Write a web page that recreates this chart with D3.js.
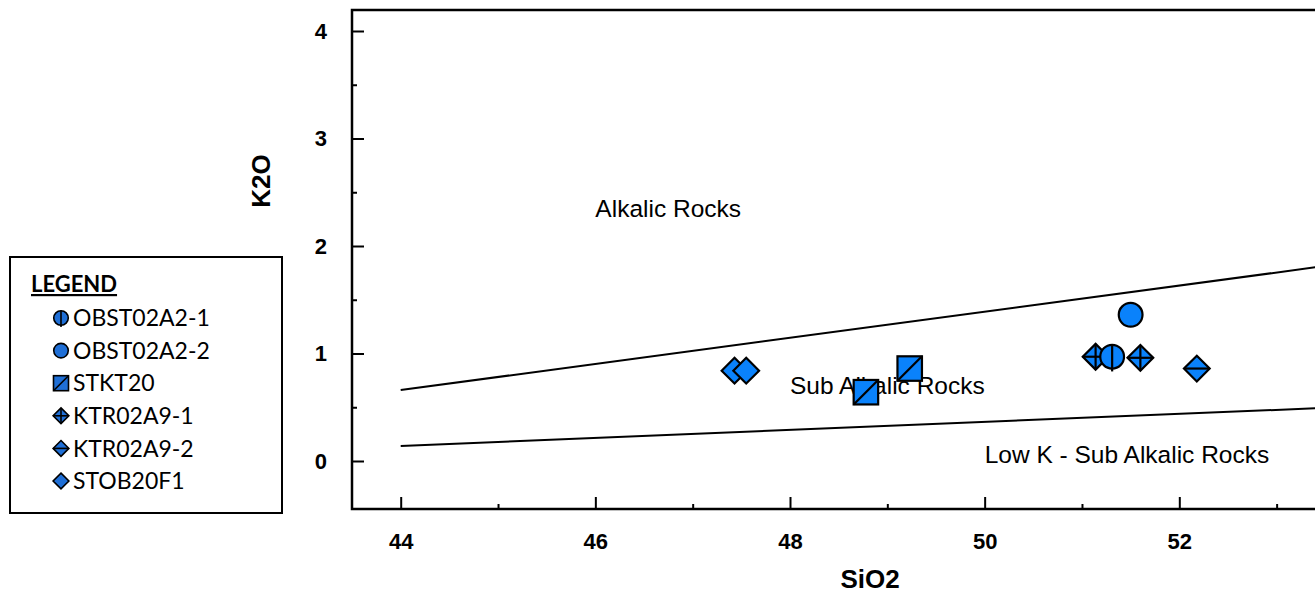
<!DOCTYPE html>
<html>
<head>
<meta charset="utf-8">
<script src="https://cdn.jsdelivr.net/npm/d3@7"></script>
<style>
  body { margin: 0; background: #fff; }
  svg { display: block; }
  .tick text { font-family: "Liberation Sans", Arial, sans-serif; font-weight: bold; font-size: 22px; fill: #000; }
  .tick line { stroke: #000; stroke-width: 2px; }
</style>
</head>
<body>
<svg id="chart" width="1315" height="596"></svg>
<script>
// series names, in legend order
var seriesNames = ["OBST02A2-1", "OBST02A2-2", "STKT20", "KTR02A9-1", "KTR02A9-2", "STOB20F1"];
var seriesSymbols = ["circleV", "circle", "squareDiag", "diamondCross", "diamondH", "diamond"];

// samples, [SiO2, K2O]
var obst02a2_1 = [[51.31, 0.97]];
var obst02a2_2 = [[51.50, 1.36]];
var stkt20 = [[48.78, 0.64], [49.23, 0.86]];
var ktr02a9_1 = [[51.14, 0.97], [51.60, 0.96]];
var ktr02a9_2 = [[52.18, 0.86]];
var stob20f1 = [[47.43, 0.84], [47.55, 0.84]];

// field boundaries
var alkalicLine = [[44, 0.66], [54, 1.875]];
var lowKLine = [[44, 0.14], [54, 0.513]];

// field names [label, SiO2, K2O]
var fieldLabels = [
    ["Alkalic Rocks", 46.0, 2.35],
    ["Sub Alkalic Rocks", 48.0, 0.70],
    ["Low K - Sub Alkalic Rocks", 50.0, 0.065]
];

var xMajor = [44, 46, 48, 50, 52];
var xMinor = [45, 47, 49, 51, 53];
var yMajor = [0, 1, 2, 3, 4];
var yMinor = [0.5, 1.5, 2.5, 3.5];

var svg = d3.select("#chart");

var plotLeft = 352, plotTop = 10, plotBottom = 509, plotRight = 1345;

var x = d3.scaleLinear().domain([44, 52]).range([400.7, 1179.3]);
var y = d3.scaleLinear().domain([0, 4]).range([461, 31]);

var fill = "#0a82fb";

// frame
svg.append("path")
    .attr("d", "M" + plotRight + "," + plotTop + "H" + plotLeft + "V" + plotBottom + "H" + plotRight)
    .attr("fill", "none")
    .attr("stroke", "#000")
    .attr("stroke-width", 2.5);

// y axis
var yAxis = svg.append("g").attr("transform", "translate(" + plotLeft + ",0)");
yAxis.call(d3.axisLeft(y).tickValues(yMajor).tickSizeInner(-12).tickSizeOuter(0).tickPadding(25).tickFormat(d3.format("d")));
var yAxisMinor = svg.append("g").attr("transform", "translate(" + plotLeft + ",0)");
yAxisMinor.call(d3.axisLeft(y).tickValues(yMinor).tickSizeInner(-5).tickSizeOuter(0).tickFormat(""));

// x axis
var xAxis = svg.append("g").attr("transform", "translate(0," + plotBottom + ")");
xAxis.call(d3.axisBottom(x).tickValues(xMajor).tickSizeInner(-12).tickSizeOuter(0).tickPadding(24).tickFormat(d3.format("d")));
var xAxisMinor = svg.append("g").attr("transform", "translate(0," + plotBottom + ")");
xAxisMinor.call(d3.axisBottom(x).tickValues(xMinor).tickSizeInner(-5).tickSizeOuter(0).tickFormat(""));

svg.selectAll(".domain").remove();

// axis titles
svg.append("text")
    .attr("x", 870)
    .attr("y", 588)
    .attr("text-anchor", "middle")
    .style("font-family", "Liberation Sans, Arial, sans-serif")
    .style("font-weight", "bold")
    .style("font-size", "26px")
    .text("SiO2");

svg.append("text")
    .attr("transform", "translate(270,181) rotate(-90)")
    .attr("text-anchor", "middle")
    .style("font-family", "Liberation Sans, Arial, sans-serif")
    .style("font-weight", "bold")
    .style("font-size", "26px")
    .text("K2O");

// field labels
svg.selectAll(".field")
    .data(fieldLabels)
    .enter()
    .append("text")
    .attr("class", "field")
    .attr("x", function (d) { return x(d[1]); })
    .attr("y", function (d) { return y(d[2]); })
    .attr("dy", "0.35em")
    .style("font-family", "Liberation Sans, Arial, sans-serif")
    .style("font-size", "24.5px")
    .text(function (d) { return d[0]; });

// boundaries
var line = d3.line()
    .x(function (d) { return x(d[0]); })
    .y(function (d) { return y(d[1]); });

[alkalicLine, lowKLine].forEach(function (l) {
    svg.append("path")
        .attr("d", line(l))
        .attr("fill", "none")
        .attr("stroke", "#000")
        .attr("stroke-width", 2);
});

// symbol drawing
function drawSymbol(g, type, s, col, sw) {
    var h = s / 2;
    if (type === "circle" || type === "circleV") {
        g.append("circle").attr("r", h * 0.97).attr("fill", col).attr("stroke", "#000").attr("stroke-width", sw);
        if (type === "circleV") {
            g.append("line").attr("x1", 0).attr("x2", 0).attr("y1", -h * 0.97).attr("y2", h * 1.2)
                .attr("stroke", "#000").attr("stroke-width", sw);
        }
    } else if (type === "squareDiag") {
        g.append("rect").attr("x", -h).attr("y", -h).attr("width", s).attr("height", s)
            .attr("fill", col).attr("stroke", "#000").attr("stroke-width", sw);
        g.append("line").attr("x1", -h).attr("y1", h).attr("x2", h).attr("y2", -h)
            .attr("stroke", "#000").attr("stroke-width", sw);
    } else {
        var r = h * 1.05;
        g.append("path").attr("d", "M0," + (-r) + "L" + r + ",0L0," + r + "L" + (-r) + ",0Z")
            .attr("fill", col).attr("stroke", "#000").attr("stroke-width", sw).attr("stroke-linejoin", "miter");
        if (type === "diamondCross" || type === "diamondH") {
            g.append("line").attr("x1", -r).attr("x2", r).attr("y1", 0).attr("y2", 0)
                .attr("stroke", "#000").attr("stroke-width", sw);
        }
        if (type === "diamondCross") {
            g.append("line").attr("x1", 0).attr("x2", 0).attr("y1", -r).attr("y2", r)
                .attr("stroke", "#000").attr("stroke-width", sw);
        }
    }
}

// points (draw order matters for overlaps)
var layers = [
    [ktr02a9_1, "diamondCross"],
    [obst02a2_1, "circleV"],
    [obst02a2_2, "circle"],
    [stkt20, "squareDiag"],
    [ktr02a9_2, "diamondH"],
    [stob20f1, "diamond"]
];

layers.forEach(function (layer) {
    svg.append("g")
        .selectAll("g")
        .data(layer[0])
        .enter()
        .append("g")
        .attr("transform", function (d) { return "translate(" + x(d[0]) + "," + y(d[1]) + ")"; })
        .each(function () {
            drawSymbol(d3.select(this), layer[1], 24.5, fill, 2.2);
        });
});

// legend
var legend = svg.append("g");
legend.append("rect")
    .attr("x", 10).attr("y", 257)
    .attr("width", 272).attr("height", 256)
    .attr("fill", "#fff")
    .attr("stroke", "#000")
    .attr("stroke-width", 2);

legend.append("text")
    .attr("x", 31).attr("y", 292)
    .style("font-family", "Lato, Carlito, sans-serif")
    .style("font-weight", "bold")
    .style("font-size", "22px")
    .style("text-decoration", "underline")
    .text("LEGEND");

var legendCol = "#1f6fd6";
seriesNames.forEach(function (name, i) {
    var cy = 318 + i * 32.6;
    var item = legend.append("g").attr("transform", "translate(61," + cy + ")");
    drawSymbol(item, seriesSymbols[i], 15, legendCol, 1.6);
    legend.append("text")
        .attr("x", 73).attr("y", cy)
        .attr("dy", "0.36em")
        .style("font-family", "Lato, Carlito, sans-serif")
        .style("font-size", "23px")
        .text(name);
});
</script>
</body>
</html>
